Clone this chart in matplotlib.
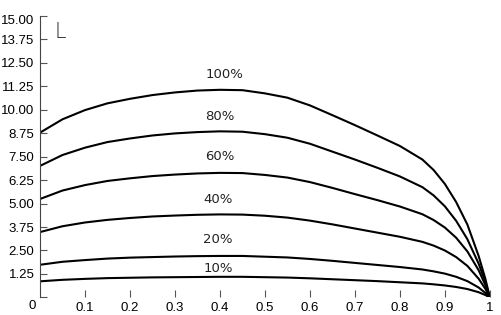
import matplotlib
matplotlib.use("Agg")
import matplotlib.pyplot as plt

# x positions along the curves
x = [0, 0.05, 0.1, 0.15, 0.2, 0.25, 0.3, 0.35, 0.4, 0.45, 0.5, 0.55, 0.6,
     0.65, 0.7, 0.75, 0.8, 0.85, 0.875, 0.9, 0.925, 0.95, 0.975, 0.99, 1.0]

# values, one list per curve
p100 = [8.77, 9.48, 9.97, 10.33, 10.57, 10.77, 10.91, 11.01, 11.05, 11.03, 10.86, 10.63, 10.22,
        9.70, 9.17, 8.62, 8.06, 7.34, 6.78, 6.04, 5.08, 3.88, 2.21, 0.99, 0]
p80 = [7.00, 7.58, 7.97, 8.27, 8.46, 8.62, 8.73, 8.80, 8.84, 8.82, 8.69, 8.50, 8.18,
       7.76, 7.34, 6.90, 6.44, 5.87, 5.43, 4.85, 4.08, 3.10, 1.80, 0.82, 0]
p60 = [5.24, 5.69, 5.98, 6.20, 6.34, 6.46, 6.54, 6.60, 6.63, 6.62, 6.52, 6.38, 6.14,
       5.83, 5.50, 5.18, 4.84, 4.43, 4.12, 3.72, 3.18, 2.45, 1.45, 0.66, 0]
p40 = [3.48, 3.79, 3.99, 4.13, 4.23, 4.31, 4.36, 4.40, 4.42, 4.41, 4.35, 4.25, 4.09,
       3.89, 3.67, 3.45, 3.23, 2.96, 2.76, 2.50, 2.15, 1.68, 1.00, 0.46, 0]
p20 = [1.74, 1.90, 1.99, 2.07, 2.12, 2.15, 2.18, 2.20, 2.21, 2.21, 2.17, 2.13, 2.05,
       1.95, 1.84, 1.73, 1.62, 1.49, 1.39, 1.27, 1.10, 0.87, 0.53, 0.24, 0]
p10 = [0.86, 0.94, 0.99, 1.03, 1.05, 1.07, 1.08, 1.09, 1.10, 1.10, 1.08, 1.06, 1.02,
       0.97, 0.92, 0.87, 0.81, 0.75, 0.70, 0.64, 0.56, 0.45, 0.28, 0.13, 0]

curves = [p100, p80, p60, p40, p20, p10]
labels = ["100%", "80%", "60%", "40%", "20%", "10%"]
label_x = [0.41, 0.40, 0.40, 0.396, 0.396, 0.396]
label_y = [11.84, 9.62, 7.49, 5.19, 3.06, 1.55]

yticks = [0, 1.25, 2.5, 3.75, 5.0, 6.25, 7.5, 8.75, 10.0, 11.25, 12.5, 13.75, 15.0]
xticks = [0.1, 0.2, 0.3, 0.4, 0.5, 0.6, 0.7, 0.8, 0.9, 1.0]
xticklabels = ["0.1", "0.2", "0.3", "0.4", "0.5", "0.6", "0.7", "0.8", "0.9", "1"]

plt.rcParams['font.family'] = ['Liberation Sans', 'DejaVu Sans']

fig = plt.figure(figsize=(5.01, 3.15), dpi=100)
ax = fig.add_axes([0.0798, 0.0556, 0.898, 0.895])

for vals in curves:
    ax.plot(x, vals, color='black', linewidth=1.5, solid_joinstyle='round')

for lab, lx, ly in zip(labels, label_x, label_y):
    ax.text(lx, ly, lab, ha='center', va='center', fontsize=9.5,
            family=['Liberation Sans Narrow', 'DejaVu Sans'], color='#222222')

ax.set_xlim(0, 1)
ax.set_ylim(0, 15)

# y axis: ticks pointing in, 0 and 15.00 labels placed by hand
ax.set_yticks(yticks)
ylabs = ["%.2f" % v for v in yticks]
ylabs[0] = ""
ylabs[-1] = ""
ax.set_yticklabels(ylabs)
ax.tick_params(axis='y', direction='in', length=5, width=0.8, pad=4, labelsize=9.5,
               color='#555555')
ax.text(-0.0125, 14.7, "15.00", ha='right', va='center', fontsize=9.5, clip_on=False)
ax.text(-0.018, -0.45, "0", ha='center', va='center', fontsize=9.5, clip_on=False)

ax.set_xticks(xticks)
ax.set_xticklabels(xticklabels)
ax.tick_params(axis='x', direction='in', length=5, width=0.8, pad=3, labelsize=9.5,
               color='#555555')

for side in ['top', 'right', 'bottom']:
    ax.spines[side].set_visible(False)
ax.spines['left'].set_linewidth(0.8)
ax.spines['left'].set_color('#444444')

# small "L" mark at top left
ax.text(0.046, 14.1, "L", ha='center', va='center', fontsize=15,
        family='DejaVu Sans', fontweight='light', color='#222222')

fig.savefig("out.png", dpi=100)
